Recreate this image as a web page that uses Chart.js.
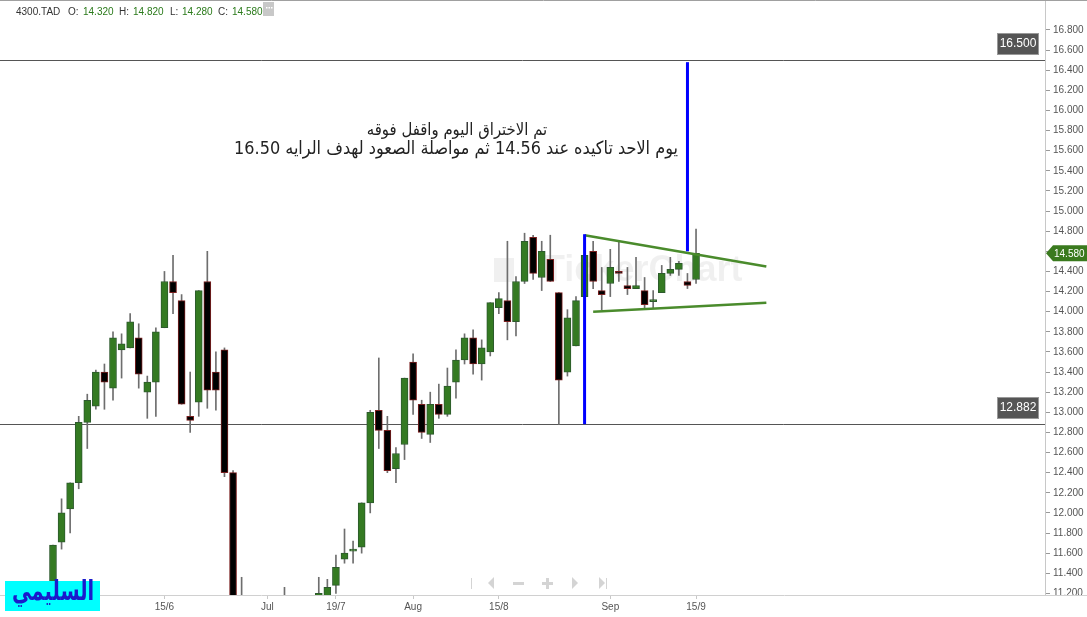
<!DOCTYPE html>
<html>
<head>
<meta charset="utf-8">
<script src="https://cdn.jsdelivr.net/npm/chart.js@4.4.0/dist/chart.umd.min.js"></script>
<style>
  html, body { margin: 0; padding: 0; background: #fff; }
  #wrap { width: 1087px; height: 617px; position: relative; }
</style>
</head>
<body>
<div id="wrap"><canvas id="chart" width="1087" height="617"></canvas></div>
<script>
// daily candles, index 0 = first candle visible on the left
const opens  = [11.05, 11.71, 12.04, 12.30, 12.90, 13.06, 13.40, 13.24, 13.62, 13.64,
                13.74, 13.20, 13.30, 13.84, 14.30, 14.11, 12.96, 13.10, 14.30, 13.40,
                13.62, 12.40, 10.95, 11.05, 10.90, 11.00, 10.95, 11.02, 11.10, 11.05,
                11.08, 11.12, 11.14, 11.28, 11.54, 11.62, 11.66, 12.10, 13.02, 12.82,
                12.44, 12.68, 13.50, 13.08, 12.78, 13.08, 12.98, 13.30, 13.52, 13.74,
                13.48, 13.60, 14.04, 14.11, 13.90, 14.30, 14.74, 14.34, 14.52, 14.19,
                13.40, 13.66, 14.15, 14.60, 14.21, 14.28, 14.40, 14.26, 14.23, 14.21,
                14.10, 14.19, 14.38, 14.42, 14.30, 14.32];
const highs  = [11.68, 12.14, 12.30, 12.96, 13.18, 13.42, 13.48, 13.80, 13.78, 13.98,
                13.88, 13.36, 13.84, 14.40, 14.56, 14.17, 13.40, 14.21, 14.60, 13.60,
                13.64, 12.42, 11.36, 11.12, 11.05, 11.10, 11.08, 11.26, 11.15, 11.12,
                11.16, 11.36, 11.34, 11.58, 11.84, 11.72, 12.10, 13.02, 13.54, 12.96,
                12.65, 13.34, 13.58, 13.12, 13.20, 13.28, 13.44, 13.62, 13.78, 13.82,
                13.72, 14.09, 14.19, 14.70, 14.35, 14.78, 14.76, 14.70, 14.76, 14.19,
                14.02, 14.15, 14.56, 14.70, 14.44, 14.62, 14.70, 14.44, 14.54, 14.34,
                14.21, 14.46, 14.54, 14.50, 14.38, 14.82];
const lows   = [10.90, 11.64, 11.80, 12.24, 12.64, 13.03, 13.03, 13.12, 13.34, 13.64,
                13.24, 12.94, 12.96, 13.84, 13.98, 13.08, 12.80, 12.96, 13.04, 13.02,
                12.36, 10.85, 10.80, 10.85, 10.80, 10.88, 10.85, 10.95, 10.98, 10.98,
                11.00, 11.08, 11.10, 11.20, 11.50, 11.50, 11.60, 12.00, 12.64, 12.40,
                12.30, 12.53, 12.98, 12.74, 12.70, 12.94, 12.96, 13.14, 13.48, 13.38,
                13.32, 13.56, 13.98, 13.72, 13.76, 14.28, 14.32, 14.21, 14.30, 12.88,
                13.36, 13.66, 14.15, 14.23, 14.02, 14.15, 14.30, 14.17, 14.23, 14.04,
                14.04, 14.19, 14.36, 14.36, 14.23, 14.28];
const closes = [11.68, 12.00, 12.30, 12.90, 13.12, 13.40, 13.30, 13.74, 13.68, 13.90,
                13.38, 13.30, 13.80, 14.30, 14.19, 13.08, 12.92, 14.21, 13.22, 13.22,
                12.40, 10.95, 11.05, 10.90, 11.00, 10.95, 11.02, 11.10, 11.05, 11.08,
                11.12, 11.20, 11.26, 11.46, 11.60, 11.64, 12.10, 13.00, 12.82, 12.42,
                12.59, 13.34, 13.12, 12.80, 13.08, 12.98, 13.26, 13.52, 13.74, 13.48,
                13.64, 14.09, 14.13, 13.90, 14.30, 14.70, 14.38, 14.60, 14.30, 13.32,
                13.94, 14.11, 14.56, 14.30, 14.17, 14.44, 14.38, 14.23, 14.26, 14.07,
                14.11, 14.38, 14.42, 14.48, 14.26, 14.58];
const days = opens.map((_, i) => i);

// bottom axis labels and the day index they sit on
const tickDays = [13, 25, 33, 42, 52, 65, 75];
const tickText = ['15/6', 'Jul', '19/7', 'Aug', '15/8', 'Sep', '15/9'];

// right axis labels
const priceTicks = [11.2, 11.4, 11.6, 11.8, 12.0, 12.2, 12.4, 12.6, 12.8, 13.0,
                    13.2, 13.4, 13.6, 13.8, 14.0, 14.2, 14.4, 14.6, 14.8, 15.0,
                    15.2, 15.4, 15.6, 15.8, 16.0, 16.2, 16.4, 16.6, 16.8];

// drawings on the chart
const levels = [16.5, 12.882];
const blueLines = [[62, 14.77, 12.882], [74, 16.48, 14.60]];
const upperTrend = [[62, 14.76], [83.2, 14.45]];
const lowerTrend = [[63, 14.00], [83.2, 14.09]];
const lastPrice = 14.58;
const note1 = 'تم الاختراق اليوم واقفل فوقه';
const note2 = 'يوم الاحد تاكيده عند 14.56 ثم مواصلة الصعود لهدف الرايه 16.50';
const signature = 'السليمي';

const UP = '#347a22', UP_EDGE = '#2d5a2d';
const DOWN = '#000000', DOWN_EDGE = '#7a1f1f';
const FONT = '"Liberation Sans", Arial, sans-serif';

const up = days.map(i => closes[i] >= opens[i]);

const overlay = {
  id: 'overlay',
  beforeDatasetsDraw(chart) {
    const { ctx, chartArea: a, scales: { y } } = chart;
    ctx.save();
    // watermark
    ctx.fillStyle = 'rgba(0,0,0,0.06)';
    ctx.font = 'bold 36px ' + FONT;
    ctx.textBaseline = 'middle';
    ctx.fillText('TickerChart', 543, 271);
    ctx.fillRect(494, 258, 20, 24);
    // horizontal levels
    ctx.strokeStyle = '#555';
    ctx.lineWidth = 1;
    levels.forEach(v => {
      const py = Math.round(y.getPixelForValue(v)) + 0.5;
      ctx.beginPath(); ctx.moveTo(a.left, py); ctx.lineTo(a.right, py); ctx.stroke();
    });
    ctx.restore();
  },
  afterDatasetsDraw(chart) {
    const { ctx, scales: { x, y } } = chart;
    ctx.save();
    ctx.strokeStyle = '#4a8b2c';
    ctx.lineWidth = 2.5;
    [upperTrend, lowerTrend].forEach(t => {
      ctx.beginPath();
      ctx.moveTo(x.getPixelForValue(t[0][0]), y.getPixelForValue(t[0][1]));
      ctx.lineTo(x.getPixelForValue(t[1][0]), y.getPixelForValue(t[1][1]));
      ctx.stroke();
    });
    ctx.strokeStyle = '#0000ff';
    ctx.lineWidth = 3;
    blueLines.forEach(b => {
      const px = x.getPixelForValue(b[0]);
      ctx.beginPath();
      ctx.moveTo(px, y.getPixelForValue(b[1]));
      ctx.lineTo(px, y.getPixelForValue(b[2]));
      ctx.stroke();
    });
    ctx.restore();
  },
  afterDraw(chart) {
    const { ctx, chartArea: a, scales: { y } } = chart;
    ctx.save();
    // frame lines
    ctx.strokeStyle = '#a0a0a0';
    ctx.lineWidth = 1;
    ctx.beginPath(); ctx.moveTo(0, 0.5); ctx.lineTo(1087, 0.5); ctx.stroke();
    ctx.strokeStyle = '#d0d0d0';
    ctx.beginPath(); ctx.moveTo(a.right, a.bottom + 0.5); ctx.lineTo(1087, a.bottom + 0.5); ctx.stroke();

    // level boxes
    ctx.font = '12px ' + FONT;
    ctx.textAlign = 'center';
    ctx.textBaseline = 'middle';
    levels.forEach(v => {
      const py = Math.round(y.getPixelForValue(v));
      ctx.fillStyle = '#555';
      ctx.fillRect(997, py - 27, 42, 22);
      ctx.strokeStyle = '#999';
      ctx.strokeRect(997.5, py - 26.5, 41, 21);
      ctx.fillStyle = '#fff';
      ctx.fillText(v.toFixed(3), 1018, py - 16);
    });

    // last price tag on the axis
    const ty = y.getPixelForValue(lastPrice);
    ctx.fillStyle = '#3a7a1e';
    ctx.beginPath();
    ctx.moveTo(a.right + 1, ty);
    ctx.lineTo(a.right + 8, ty - 8);
    ctx.lineTo(1087, ty - 8);
    ctx.lineTo(1087, ty + 8);
    ctx.lineTo(a.right + 8, ty + 8);
    ctx.closePath();
    ctx.fill();
    ctx.fillStyle = '#fff';
    ctx.font = '10px ' + FONT;
    ctx.textAlign = 'left';
    ctx.fillText(lastPrice.toFixed(3), 1054, ty + 0.5);

    // header
    ctx.font = '10px ' + FONT;
    ctx.textBaseline = 'middle';
    const last = opens.length - 1;
    const hdr = [['4300.TAD', 16, '#333'], ['O:', 68, '#333'], [opens[last].toFixed(3), 83, '#2a7a1a'],
                 ['H:', 119, '#333'], [highs[last].toFixed(3), 133, '#2a7a1a'],
                 ['L:', 170, '#333'], [lows[last].toFixed(3), 182, '#2a7a1a'],
                 ['C:', 218, '#333'], [closes[last].toFixed(3), 232, '#2a7a1a']];
    hdr.forEach(h => { ctx.fillStyle = h[2]; ctx.fillText(h[0], h[1], 12); });
    ctx.fillStyle = '#c8c8c8';
    ctx.fillRect(263, 2, 11, 14);
    ctx.fillStyle = '#fff';
    [266, 268.5, 271].forEach(dx => ctx.fillRect(dx, 7, 1.5, 1.5));

    // notes, sized to their width and stretched a little in height
    const fit = (txt, w, base, weight) => {
      const fam = 'px "DejaVu Sans", ' + FONT;
      ctx.font = weight + base + fam;
      const m = ctx.measureText(txt).width;
      ctx.font = weight + (base * w / m).toFixed(1) + fam;
    };
    const stretched = (txt, cx, cy, sy) => {
      ctx.save();
      ctx.translate(cx, cy);
      ctx.scale(1, sy);
      ctx.fillText(txt, 0, 0);
      ctx.restore();
    };
    ctx.fillStyle = '#222';
    ctx.textAlign = 'center';
    ctx.direction = 'rtl';
    fit(note1, 181, 15, '');
    stretched(note1, 457, 131, 1.12);
    fit(note2, 444, 18, '');
    stretched(note2, 456, 149, 1.12);

    // signature box
    ctx.fillStyle = '#00ffff';
    ctx.fillRect(5, 581, 95, 30);
    ctx.fillStyle = '#1a1acc';
    fit(signature, 82, 22, 'bold ');
    stretched(signature, 53, 593, 1.45);
    ctx.direction = 'ltr';

    // navigation icons
    ctx.fillStyle = '#d4d4d4';
    ctx.fillRect(471, 578, 1, 11);
    ctx.beginPath(); ctx.moveTo(488, 583); ctx.lineTo(494, 577); ctx.lineTo(494, 589); ctx.fill();
    ctx.fillRect(513, 582, 11, 3);
    ctx.fillRect(542, 582, 11, 3);
    ctx.fillRect(546, 578, 3, 11);
    ctx.beginPath(); ctx.moveTo(578, 583); ctx.lineTo(572, 577); ctx.lineTo(572, 589); ctx.fill();
    ctx.beginPath(); ctx.moveTo(605, 583); ctx.lineTo(599, 577); ctx.lineTo(599, 589); ctx.fill();
    ctx.fillRect(606, 578, 1, 11);
    ctx.restore();
  }
};

new Chart(document.getElementById('chart').getContext('2d'), {
  type: 'bar',
  data: {
    datasets: [
      {
        label: 'wick',
        data: days.map(i => ({ x: i, y: [lows[i], highs[i]] })),
        backgroundColor: '#6e6e6e',
        barThickness: 1,
        grouped: false,
        order: 2
      },
      {
        label: 'body',
        data: days.map(i => ({ x: i, y: [opens[i], closes[i]] })),
        backgroundColor: days.map(i => up[i] ? UP : DOWN),
        borderColor: days.map(i => up[i] ? UP_EDGE : DOWN_EDGE),
        borderWidth: 1,
        borderSkipped: false,
        barThickness: 7,
        minBarLength: 2,
        grouped: false,
        order: 1
      }
    ]
  },
  options: {
    responsive: false,
    animation: false,
    layout: { padding: 0 },
    plugins: { legend: { display: false }, tooltip: { enabled: false } },
    scales: {
      x: {
        type: 'linear',
        position: 'bottom',
        min: -6.18,
        max: 115.7,
        offset: false,
        grid: { drawOnChartArea: false, offset: false, tickLength: 4, color: '#c8c8c8' },
        border: { color: '#d0d0d0' },
        ticks: {
          autoSkip: false,
          maxRotation: 0,
          padding: 2,
          color: '#555',
          font: { family: FONT, size: 10 },
          callback: v => { const k = tickDays.indexOf(v); return k >= 0 ? tickText[k] : ''; }
        },
        afterBuildTicks: s => { s.ticks = tickDays.map(v => ({ value: v })); },
        afterFit: s => { s.height = 22; s.paddingLeft = 0; s.paddingRight = 0; }
      },
      y: {
        type: 'linear',
        position: 'right',
        min: 11.184,
        max: 17.098,
        grid: { drawOnChartArea: false, tickLength: 5, color: '#999' },
        border: { color: '#c8c8c8' },
        ticks: {
          padding: 3,
          color: '#555',
          font: { family: FONT, size: 10 },
          callback: v => v.toFixed(3)
        },
        afterBuildTicks: s => { s.ticks = priceTicks.map(v => ({ value: v })); },
        afterFit: s => { s.width = 42; s.paddingTop = 0; s.paddingBottom = 0; }
      }
    }
  },
  plugins: [overlay]
});
</script>
</body>
</html>
